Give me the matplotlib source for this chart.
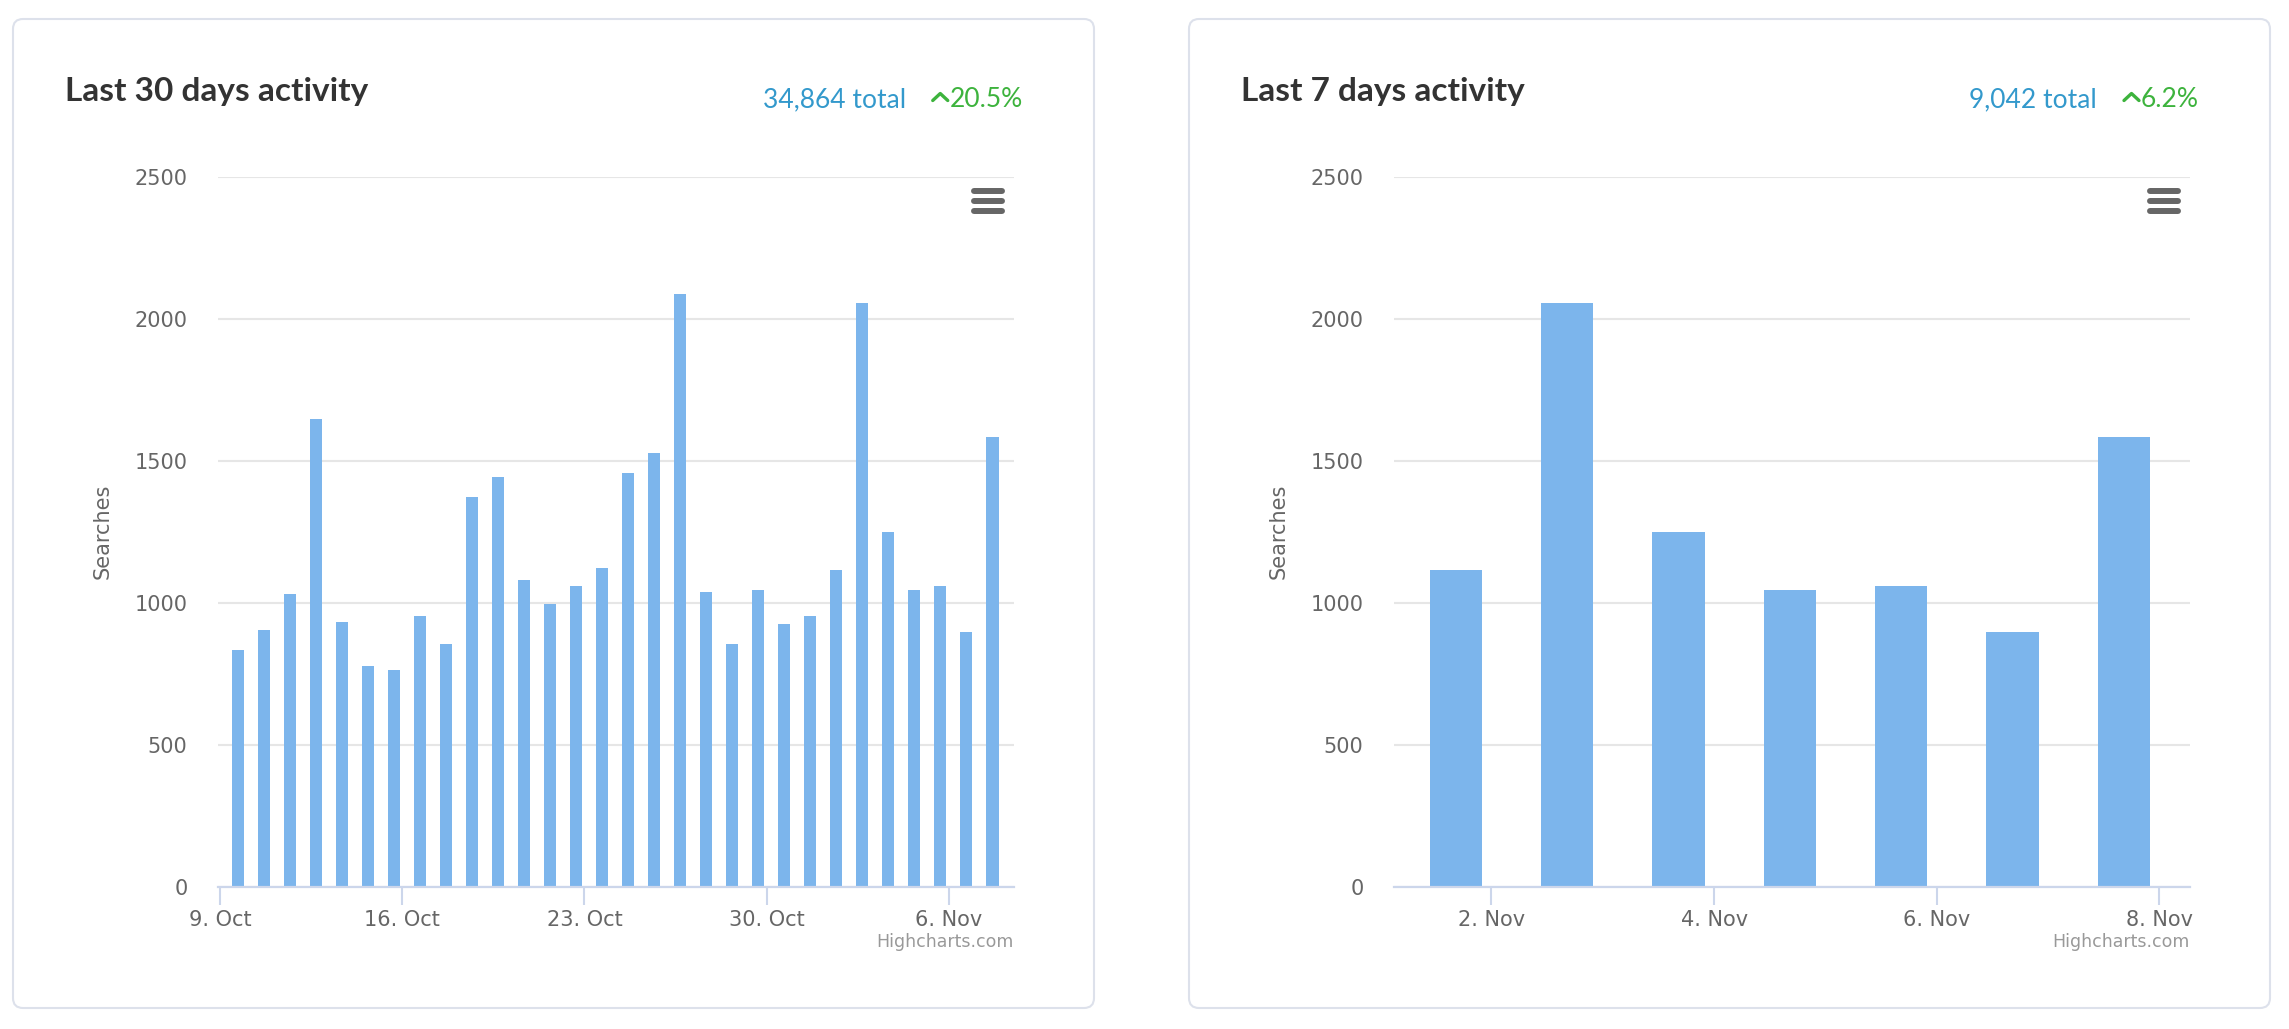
import matplotlib
matplotlib.use('Agg')
import matplotlib.pyplot as plt
import matplotlib.dates as mdates
import pandas as pd
from matplotlib.patches import FancyBboxPatch
from matplotlib.ticker import FuncFormatter

# ---- data ----
days_30 = pd.date_range('2017-10-09', periods=30, freq='D')
searches_30 = [833, 904, 1031, 1647, 932, 776, 762, 953, 854, 1371,
               1441, 1080, 996, 1059, 1123, 1456, 1526, 2086, 1038, 854,
               1045, 925, 953, 1116, 2057, 1250, 1045, 1059, 896, 1583]
days_7 = pd.date_range('2017-11-01', periods=7, freq='D')
searches_7 = [1116, 2057, 1250, 1045, 1059, 896, 1583]

titles = ['Last 30 days activity', 'Last 7 days activity']
totals = ['34,864 total', '9,042 total']
changes = ['20.5%', '6.2%']

BAR = '#7cb5ec'
GRID = '#e6e6e6'
AXIS = '#ccd6eb'
LABEL = '#666666'
BLUE = '#3399cc'
GREEN = '#3db33d'

W, H = 2289, 1029
fig = plt.figure(figsize=(W / 100, H / 100), dpi=100)
fig.patch.set_facecolor('white')

# background layer in pixel coordinates
bg = fig.add_axes([0, 0, 1, 1], zorder=0)
bg.set_xlim(0, W)
bg.set_ylim(H, 0)
bg.axis('off')
renderer = fig.canvas.get_renderer()

card_x = [13, 1189]
card_w, card_top, card_h = 1081, 19, 989


def day_fmt(v, pos):
    d = mdates.num2date(v)
    return f"{d.day}. {d:%b}"


def chart(ax, dates, values, locator, xlim):
    x = mdates.date2num(dates.to_pydatetime()) + 0.68
    ax.bar(x, values, width=0.47, color=BAR, zorder=2)
    ax.set_ylim(0, 2500)
    ax.set_yticks(range(0, 2501, 500))
    ax.set_xlim(*xlim)
    ax.grid(axis='y', color=GRID, lw=1.5)
    ax.set_axisbelow(True)
    for s in ('top', 'right', 'left'):
        ax.spines[s].set_visible(False)
    ax.spines['bottom'].set_color(AXIS)
    ax.spines['bottom'].set_linewidth(1.6)
    ax.xaxis.set_major_locator(locator)
    ax.xaxis.set_major_formatter(FuncFormatter(day_fmt))
    ax.tick_params(axis='y', length=0, pad=22, labelsize=15, labelcolor=LABEL)
    ax.tick_params(axis='x', length=13, width=1.5, color=AXIS, pad=4,
                   labelsize=15, labelcolor=LABEL)
    ax.set_ylabel('Searches', fontsize=15, color=LABEL, va='center')
    ax.yaxis.set_label_coords(-115 / 796, 0.5)
    ax.set_facecolor('none')


ax_left = 205
ax_w = 796
y_top, y_bot = 176.7, 886.7

ref30 = mdates.date2num(pd.Timestamp('2017-10-09').to_pydatetime())
ref7 = mdates.date2num(pd.Timestamp('2017-11-01').to_pydatetime())
setups = [
    (days_30, searches_30, mdates.WeekdayLocator(byweekday=mdates.MO),
     (ref30 - 0.08, ref30 + 30.51)),
    (days_7, searches_7, mdates.DayLocator(bymonthday=list(range(2, 31, 2))),
     (ref7 + 0.124, ref7 + 7.276)),
]

for i, (dates, vals, loc, xlim) in enumerate(setups):
    cx = card_x[i]
    bg.add_patch(FancyBboxPatch((cx, card_top), card_w, card_h,
                                boxstyle='round,pad=0,rounding_size=10',
                                fc='white', ec='#dde1eb', lw=1.5))
    # title and stats
    bg.text(cx + 52, 101.5, titles[i], fontsize=24, fontweight='bold',
            color='#333333', family='Lato', ha='left', va='baseline')
    right = cx + card_w - 71
    pct = bg.text(right, 107, changes[i], fontsize=19, color=GREEN,
                  family='Lato', ha='right', va='baseline')
    pct_left = pct.get_window_extent(renderer).x0
    bg.plot([pct_left - 17, pct_left - 9.5, pct_left - 2], [100.5, 93.5, 100.5],
            color=GREEN, lw=2.4, solid_capstyle='round')
    bg.text(pct_left - 44, 107, totals[i], fontsize=19, color=BLUE,
            family='Lato', ha='right', va='baseline')
    # menu icon
    for yy in (191, 201, 211):
        bg.plot([cx + card_w - 120, cx + card_w - 92], [yy, yy],
                color='#666666', lw=4.3, solid_capstyle='round')
    # credits
    bg.text(cx + ax_left + ax_w, 942, 'Highcharts.com', fontsize=12.5,
            color='#999999', ha='right', va='center')

    ax = fig.add_axes([(cx + ax_left) / W, 1 - y_bot / H,
                       ax_w / W, (y_bot - y_top) / H], zorder=1)
    chart(ax, dates, vals, loc, xlim)

fig.savefig('out.png', dpi=100, facecolor='white')
